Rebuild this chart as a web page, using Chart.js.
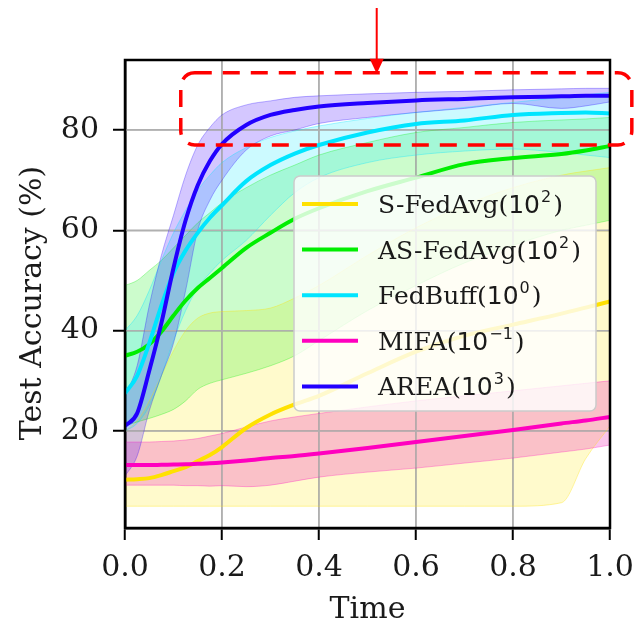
<!DOCTYPE html>
<html>
<head>
<meta charset="utf-8">
<script src="https://cdn.jsdelivr.net/npm/chart.js@4.4.1/dist/chart.umd.min.js"></script>
<style>
  html, body { margin: 0; padding: 0; background: #fff; }
</style>
</head>
<body>
<div style="width:634px;height:620px"><canvas id="acc" width="634" height="620"></canvas></div>
<script>
// normalised time on the x axis
var times = [0, 0.025, 0.05, 0.075, 0.1, 0.125, 0.15, 0.175, 0.2, 0.25, 0.3, 0.35, 0.4, 0.5, 0.6, 0.7, 0.8, 0.9, 0.95, 1.0];

// test accuracy (%) : mean, upper and lower edge of the shaded band
var sFedAvg    = [10.3, 10.4, 10.6, 11.2, 12.0, 12.8, 14.0, 15.2, 16.8, 20.6, 23.3, 25.3, 27.0, 31.5, 35.8, 39.0, 41.2, 43.4, 44.6, 45.8];
var sFedAvgHi  = [20, 22, 26, 31, 36, 40, 42.5, 43.5, 43.8, 44, 44.5, 46.5, 49, 55, 60.5, 65, 68.5, 71, 71.8, 72.5];
var sFedAvgLo  = [5, 5, 5, 5, 5, 5, 5, 5, 5, 5, 5, 5, 5, 5, 5, 5, 5, 5.7, 14.5, 21];

var asFedAvg   = [35, 35.8, 37.3, 39.8, 43, 46, 48.5, 50.5, 52.5, 56.5, 59.5, 62.3, 64.4, 67.8, 70.5, 73.2, 74.4, 75.2, 75.9, 76.8];
var asFedAvgHi = [49, 50, 52, 54, 56.5, 59, 61.5, 63.5, 65.5, 68.5, 71, 73, 75, 77.5, 79.5, 80.5, 81.5, 82, 82.2, 82.5];
var asFedAvgLo = [21, 21.8, 22.5, 23.3, 24.3, 26, 28.3, 29.5, 30.2, 31.5, 33, 35, 38, 44, 49, 53.5, 57, 60, 61, 62];

var fedBuff    = [27.5, 31, 37.5, 45, 51.5, 56, 59.5, 62.5, 65, 69.8, 73, 75.3, 77, 79.5, 81.2, 81.9, 83, 83.4, 83.5, 83.3];
var fedBuffHi  = [40, 43, 48, 54, 59.5, 64, 68, 71, 73.5, 76.5, 78.5, 79.8, 80.8, 82.3, 83.5, 84.5, 85.5, 86.5, 87, 87.5];
var fedBuffLo  = [20, 21.5, 25, 31, 38, 44, 48.5, 51.5, 54, 58, 63, 67.5, 70.5, 73.5, 75, 75.8, 76.2, 75.5, 75, 74.5];

var mifa       = [13.2, 13.2, 13.2, 13.25, 13.3, 13.35, 13.45, 13.55, 13.7, 14.1, 14.6, 15, 15.5, 16.6, 17.8, 19, 20.2, 21.5, 22.1, 22.8];
var mifaHi     = [17.8, 17.8, 17.8, 17.9, 18, 18.2, 18.5, 19, 19.5, 20.8, 22, 22.8, 23.5, 24.8, 26, 27, 28, 29, 29.5, 30];
var mifaLo     = [9.2, 9.2, 9.2, 9.2, 9.2, 9.1, 9.1, 9.0, 9.1, 8.9, 9.2, 10, 10.8, 11.8, 12.6, 13.6, 14.6, 15.8, 16.4, 17.2];

var area       = [21, 23.5, 32, 41.5, 52.5, 62, 69, 73.8, 77.2, 81, 83, 84, 84.7, 85.4, 85.9, 86.2, 86.5, 86.7, 86.8, 86.8];
var areaHi     = [27, 33, 45, 55, 63, 71, 77, 80.5, 83, 85, 85.8, 86.5, 86.8, 87.2, 87.5, 87.7, 88, 88.2, 88.3, 88.3];
var areaLo     = [11, 15, 24, 31, 37.5, 48, 60, 66, 70, 76, 78.8, 80, 81.3, 82.5, 83.5, 84.3, 85.3, 84.3, 84.8, 85.6];

var names     = ['S-FedAvg', 'AS-FedAvg', 'FedBuff', 'MIFA', 'AREA'];
var exponents = ['2', '2', '0', '\u22121', '3'];
var xTicks = [0, 0.2, 0.4, 0.6, 0.8, 1.0];
var yTicks = [20, 40, 60, 80];

var lineColors = ['#ffe100', '#00ee00', '#00e5ff', '#ff00bf', '#2200ff'];
var fillColors = ['rgba(255,230,0,0.2)', 'rgba(0,238,0,0.2)', 'rgba(0,229,255,0.2)',
                  'rgba(240,60,190,0.3)', 'rgba(60,0,255,0.22)'];
var edgeColors = ['rgba(255,225,0,0.35)', 'rgba(0,238,0,0.3)', 'rgba(0,229,255,0.35)',
                  'rgba(255,0,191,0.3)', 'rgba(34,0,255,0.3)'];

var means = [sFedAvg, asFedAvg, fedBuff, mifa, area];
var highs = [sFedAvgHi, asFedAvgHi, fedBuffHi, mifaHi, areaHi];
var lows  = [sFedAvgLo, asFedAvgLo, fedBuffLo, mifaLo, areaLo];

function pts(arr) {
  return times.map(function (t, i) { return { x: t, y: arr[i] }; });
}

var datasets = [];
// shaded bands first (drawn under the lines), later series on top
means.forEach(function (m, k) {
  datasets.push({
    label: 'band', data: pts(highs[k]), fill: '+1', backgroundColor: fillColors[k],
    borderColor: edgeColors[k], borderWidth: 1, pointRadius: 0,
    cubicInterpolationMode: 'monotone', order: 20 - k
  });
  datasets.push({
    label: 'band', data: pts(lows[k]), fill: false,
    borderColor: edgeColors[k], borderWidth: 1, pointRadius: 0,
    cubicInterpolationMode: 'monotone', order: 20 - k
  });
});
means.forEach(function (m, k) {
  datasets.push({
    label: names[k], data: pts(m), fill: false, borderColor: lineColors[k],
    borderWidth: 4, pointRadius: 0, cubicInterpolationMode: 'monotone', order: 10 - k
  });
});

function drawLegendLabel(ctx, x, y, name, exp) {
  ctx.textAlign = 'left';
  ctx.textBaseline = 'alphabetic';
  ctx.fillStyle = '#1a1a1a';
  ctx.font = '25px "DejaVu Serif"';
  ctx.fillText(name + '(', x, y);
  x += ctx.measureText(name + '(').width;
  ctx.font = '25px "DejaVu Sans"';
  ctx.fillText('10', x, y);
  x += ctx.measureText('10').width + 1;
  ctx.font = '16px "DejaVu Sans"';
  ctx.fillText(exp, x, y - 11);
  x += ctx.measureText(exp).width + 2;
  ctx.font = '25px "DejaVu Serif"';
  ctx.fillText(')', x, y);
}

var decorations = {
  id: 'decorations',
  beforeDatasetsDraw: function (chart) {
    // matplotlib puts the grid above the filled bands
    var ctx = chart.ctx, a = chart.chartArea, sx = chart.scales.x, sy = chart.scales.y;
    ctx.save();
    ctx.strokeStyle = '#b0b0b0';
    ctx.lineWidth = 1.5;
    ctx.beginPath();
    xTicks.forEach(function (v) {
      var px = sx.getPixelForValue(v);
      ctx.moveTo(px, a.top); ctx.lineTo(px, a.bottom);
    });
    yTicks.forEach(function (v) {
      var py = sy.getPixelForValue(v);
      ctx.moveTo(a.left, py); ctx.lineTo(a.right, py);
    });
    ctx.stroke();
    ctx.restore();
  },
  afterDatasetsDraw: function (chart) {
    var ctx = chart.ctx, a = chart.chartArea;
    ctx.save();
    ctx.strokeStyle = '#000';
    ctx.lineWidth = 2.5;
    ctx.strokeRect(a.left, a.top, a.right - a.left, a.bottom - a.top);
    ctx.restore();
  },
  afterDraw: function (chart) {
    var ctx = chart.ctx, a = chart.chartArea, sx = chart.scales.x, sy = chart.scales.y;
    ctx.save();

    // axis titles
    ctx.fillStyle = '#1a1a1a';
    ctx.font = '30px "DejaVu Serif"';
    ctx.textAlign = 'center';
    ctx.textBaseline = 'alphabetic';
    ctx.fillText('Time', (a.left + a.right) / 2, 618);
    ctx.save();
    ctx.translate(41, (a.top + a.bottom) / 2 + 9);
    ctx.rotate(-Math.PI / 2);
    ctx.fillText('Test Accuracy (%)', 0, 0);
    ctx.restore();

    // legend
    var lx = 294, ly = 176, lw = 302, lh = 235;
    ctx.beginPath();
    ctx.roundRect(lx, ly, lw, lh, 6);
    ctx.fillStyle = 'rgba(255,255,255,0.8)';
    ctx.fill();
    ctx.strokeStyle = '#cccccc';
    ctx.lineWidth = 1.5;
    ctx.stroke();
    for (var k = 0; k < names.length; k++) {
      var ry = 204 + k * 45.6;
      ctx.beginPath();
      ctx.strokeStyle = lineColors[k];
      ctx.lineWidth = 4;
      ctx.moveTo(302, ry); ctx.lineTo(358, ry);
      ctx.stroke();
      drawLegendLabel(ctx, 378, ry + 9, names[k], exponents[k]);
    }

    // red dashed highlight box and arrow
    var bx0 = sx.getPixelForValue(0.115), bx1 = sx.getPixelForValue(1.045);
    var by0 = sy.getPixelForValue(91.4), by1 = sy.getPixelForValue(77.0);
    ctx.beginPath();
    ctx.roundRect(bx0, by0, bx1 - bx0, by1 - by0, 14);
    ctx.setLineDash([17, 11]);
    ctx.strokeStyle = '#ff0000';
    ctx.lineWidth = 3.5;
    ctx.stroke();
    ctx.setLineDash([]);

    var ax = sx.getPixelForValue(0.519), tip = sy.getPixelForValue(91.2);
    ctx.beginPath();
    ctx.moveTo(ax, 8); ctx.lineTo(ax, tip - 12);
    ctx.lineWidth = 2;
    ctx.stroke();
    ctx.beginPath();
    ctx.moveTo(ax - 7, tip - 15); ctx.lineTo(ax + 7, tip - 15); ctx.lineTo(ax, tip);
    ctx.closePath();
    ctx.fillStyle = '#ff0000';
    ctx.fill();
    ctx.restore();
  }
};

var ctx = document.getElementById('acc').getContext('2d');
new Chart(ctx, {
  type: 'line',
  data: { datasets: datasets },
  options: {
    responsive: false,
    animation: false,
    devicePixelRatio: 1,
    layout: { padding: { top: 60, right: 24, left: 0, bottom: 0 } },
    plugins: {
      legend: { display: false },
      tooltip: { enabled: false },
      filler: { drawTime: 'beforeDatasetsDraw' }
    },
    scales: {
      x: {
        type: 'linear', min: 0, max: 1,
        afterBuildTicks: function (s) { s.ticks = xTicks.map(function (v) { return { value: v }; }); },
        afterFit: function (s) { s.height = 92; s.paddingLeft = 0; s.paddingRight = 0; },
        ticks: {
          autoSkip: false, maxRotation: 0, padding: 10, color: '#1a1a1a',
          font: { family: 'DejaVu Serif', size: 30 },
          callback: function (v) { return Number(v).toFixed(1); }
        },
        grid: { color: '#b0b0b0', lineWidth: 1.5, tickLength: 12, tickColor: '#000', tickWidth: 2 },
        border: { color: '#000', width: 2.5 }
      },
      y: {
        type: 'linear', min: 0.66, max: 93.95,
        afterBuildTicks: function (s) { s.ticks = yTicks.map(function (v) { return { value: v }; }); },
        afterFit: function (s) { s.width = 125; s.paddingTop = 0; s.paddingBottom = 0; },
        ticks: {
          padding: 14, color: '#1a1a1a',
          font: { family: 'DejaVu Serif', size: 30 }
        },
        grid: { color: '#b0b0b0', lineWidth: 1.5, tickLength: 12, tickColor: '#000', tickWidth: 2 },
        border: { color: '#000', width: 2.5 }
      }
    }
  },
  plugins: [decorations]
});
</script>
</body>
</html>
